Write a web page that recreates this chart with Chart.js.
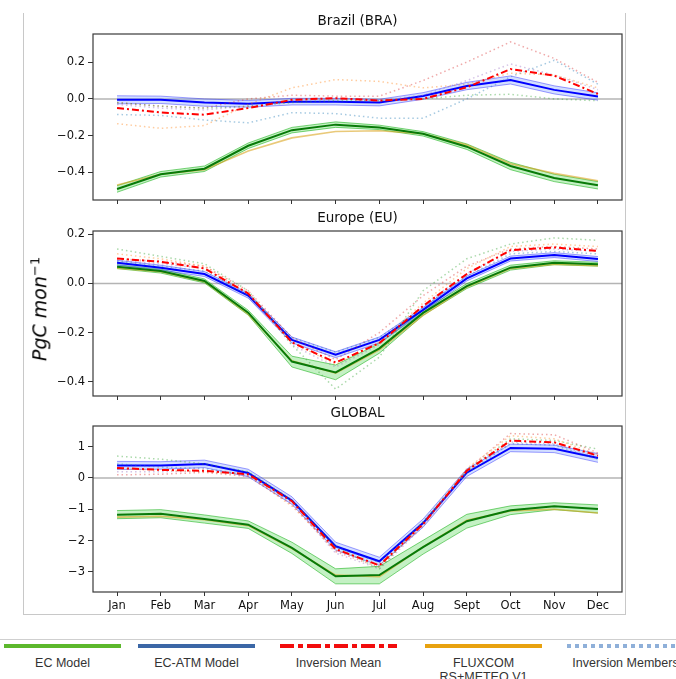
<!DOCTYPE html>
<html>
<head>
<meta charset="utf-8">
<script src="https://cdn.jsdelivr.net/npm/chart.js@4.4.1/dist/chart.umd.min.js"></script>
<style>
  body { margin: 0; background: #fff; width: 676px; height: 679px; overflow: hidden; position: relative; font-family: "DejaVu Sans", sans-serif; }
  canvas { position: absolute; left: 0; }
  #frame { position: absolute; left: 23px; top: 13px; width: 601px; height: 601px; border-left: 1px solid #c8c8c8; border-right: 1px solid #c8c8c8; border-bottom: 1px solid #c8c8c8; }
  #sep { position: absolute; left: 0; top: 639px; width: 676px; height: 0; border-top: 1px solid #cfcfcf; }
  #ylab { position: absolute; left: 39px; top: 309px; transform: translate(-50%, -50%) rotate(-90deg); font: italic 19px "DejaVu Sans"; white-space: nowrap; color: #000; }
  #ylab sup { font-size: 13px; font-style: normal; }
  .leg { position: absolute; top: 641px; width: 117px; text-align: center; font: 12.5px "Liberation Sans", Arial, sans-serif; color: #333; line-height: 14px; }
  .leg svg { display: block; width: 117px; height: 10px; }
  .leg div { margin-top: 5px; }
</style>
</head>
<body>
<div id="frame"></div>
<canvas id="braCanvas" width="676" height="210" style="top:0px"></canvas>
<canvas id="euCanvas" width="676" height="209" style="top:197px"></canvas>
<canvas id="globCanvas" width="676" height="228" style="top:392px"></canvas>
<div id="ylab">PgC mon<sup>−1</sup></div>
<div id="sep"></div>

<div class="leg" style="left:4px"><svg><line x1="0" y1="5" x2="117" y2="5" stroke="#5cb82c" stroke-width="4"/></svg><div>EC Model</div></div>
<div class="leg" style="left:138px"><svg><line x1="0" y1="5" x2="117" y2="5" stroke="#3b67a6" stroke-width="4"/></svg><div>EC-ATM Model</div></div>
<div class="leg" style="left:280px"><svg><line x1="0" y1="5" x2="117" y2="5" stroke="#f20d0d" stroke-width="4" stroke-dasharray="14,4,5,4"/></svg><div>Inversion Mean</div></div>
<div class="leg" style="left:425px"><svg><line x1="0" y1="5" x2="117" y2="5" stroke="#e8a20f" stroke-width="4"/></svg><div>FLUXCOM<br>RS+METEO V1</div></div>
<div class="leg" style="left:567px"><svg><line x1="0" y1="5" x2="117" y2="5" stroke="#8fb0d9" stroke-width="4" stroke-dasharray="4,4"/></svg><div>Inversion Members</div></div>

<script>
// months on the x axis
var months = ["Jan", "Feb", "Mar", "Apr", "May", "Jun", "Jul", "Aug", "Sept", "Oct", "Nov", "Dec"];

// Brazil (BRA)
var braEC = [-0.49, -0.41, -0.38, -0.255, -0.17, -0.14, -0.155, -0.19, -0.26, -0.365, -0.43, -0.47];
var braECSpread = [0.018, 0.015, 0.015, 0.015, 0.015, 0.015, 0.012, 0.012, 0.015, 0.02, 0.02, 0.02];
var braATM = [-0.005, -0.005, -0.02, -0.027, -0.015, -0.015, -0.02, 0.016, 0.07, 0.103, 0.049, 0.013];
var braATMSpread = [0.022, 0.02, 0.02, 0.018, 0.018, 0.018, 0.018, 0.018, 0.02, 0.022, 0.022, 0.02];
var braInv = [-0.05, -0.074, -0.086, -0.05, -0.005, 0.004, -0.009, 0.0, 0.063, 0.162, 0.126, 0.027];
var braFlux = [-0.468, -0.41, -0.385, -0.283, -0.212, -0.177, -0.173, -0.19, -0.25, -0.353, -0.405, -0.445];
var braMembers = [
  [-0.085, -0.09, -0.115, -0.13, -0.075, -0.08, -0.105, -0.105, 0.0, 0.12, 0.21, 0.08],
  [-0.135, -0.16, -0.145, -0.03, 0.06, 0.105, 0.095, 0.06, 0.08, 0.14, 0.13, 0.06],
  [-0.02, -0.04, -0.05, -0.04, -0.02, -0.01, -0.01, 0.0, 0.02, 0.025, 0.0, -0.01],
  [-0.02, -0.04, -0.05, 0.0, 0.02, 0.015, 0.015, 0.1, 0.2, 0.31, 0.22, 0.09],
  [-0.03, -0.05, -0.06, -0.04, -0.01, 0.0, -0.01, 0.02, 0.1, 0.19, 0.13, 0.05]
];
var braTicks = [-0.4, -0.2, 0.0, 0.2];

// Europe (EU)
var euEC = [0.068, 0.05, 0.01, -0.119, -0.318, -0.362, -0.264, -0.12, -0.011, 0.064, 0.084, 0.078];
var euECSpread = [0.008, 0.008, 0.008, 0.01, 0.022, 0.03, 0.02, 0.01, 0.01, 0.01, 0.008, 0.008];
var euATM = [0.084, 0.064, 0.038, -0.05, -0.23, -0.29, -0.23, -0.108, 0.02, 0.101, 0.115, 0.099];
var euATMSpread = [0.01, 0.01, 0.01, 0.01, 0.012, 0.012, 0.012, 0.01, 0.01, 0.01, 0.01, 0.01];
var euInv = [0.101, 0.088, 0.061, -0.041, -0.24, -0.322, -0.243, -0.092, 0.038, 0.135, 0.146, 0.132];
var euFlux = [0.062, 0.047, 0.007, -0.125, -0.315, -0.365, -0.27, -0.13, -0.015, 0.06, 0.078, 0.072];
var euMembers = [
  [0.09, 0.07, 0.05, -0.05, -0.22, -0.28, -0.22, -0.1, 0.03, 0.12, 0.13, 0.12],
  [0.12, 0.1, 0.07, -0.04, -0.24, -0.33, -0.24, -0.08, 0.06, 0.15, 0.16, 0.15],
  [0.14, 0.11, 0.08, -0.03, -0.25, -0.43, -0.3, -0.03, 0.1, 0.16, 0.185, 0.175],
  [0.1, 0.09, 0.07, -0.03, -0.22, -0.31, -0.2, -0.05, 0.07, 0.14, 0.15, 0.14],
  [0.095, 0.08, 0.06, -0.04, -0.25, -0.34, -0.25, -0.09, 0.04, 0.13, 0.14, 0.13]
];
var euTicks = [-0.4, -0.2, 0.0, 0.2];

// GLOBAL
var globEC = [-1.17, -1.14, -1.31, -1.49, -2.23, -3.14, -3.1, -2.21, -1.38, -1.03, -0.9, -0.99];
var globECSpread = [0.13, 0.13, 0.13, 0.12, 0.18, 0.24, 0.28, 0.22, 0.22, 0.14, 0.11, 0.13];
var globATM = [0.4, 0.4, 0.45, 0.16, -0.72, -2.18, -2.66, -1.44, 0.17, 0.96, 0.93, 0.64];
var globATMSpread = [0.13, 0.12, 0.12, 0.12, 0.12, 0.13, 0.13, 0.13, 0.12, 0.12, 0.12, 0.14];
var globInv = [0.32, 0.26, 0.23, 0.12, -0.74, -2.27, -2.79, -1.47, 0.23, 1.19, 1.14, 0.71];
var globFlux = [-1.25, -1.22, -1.33, -1.52, -2.25, -3.1, -3.15, -2.2, -1.35, -1.05, -1.0, -1.12];
var globMembers = [
  [0.45, 0.35, 0.3, 0.1, -0.75, -2.2, -2.7, -1.4, 0.15, 1.1, 1.05, 0.6],
  [0.3, 0.25, 0.2, 0.1, -0.9, -2.3, -2.8, -1.5, 0.3, 1.35, 1.25, 0.75],
  [0.7, 0.6, 0.45, 0.2, -0.7, -2.2, -2.9, -1.4, 0.25, 1.25, 1.2, 0.92],
  [0.1, 0.12, 0.18, 0.05, -0.85, -2.35, -2.85, -1.5, 0.25, 1.42, 1.38, 0.8],
  [0.2, 0.2, 0.22, 0.12, -0.8, -2.4, -2.9, -1.55, 0.2, 1.15, 1.1, 0.65]
];
var globTicks = [-3, -2, -1, 0, 1];

var memberColors = ["rgba(31,119,180,0.4)", "rgba(255,127,14,0.4)", "rgba(44,160,44,0.4)",
                    "rgba(214,39,40,0.4)", "rgba(148,103,189,0.4)"];

function pts(arr) {
  return arr.map((v, i) => ({ x: i, y: v }));
}
function shifted(arr, spread, sign) {
  return arr.map((v, i) => ({ x: i, y: v + sign * spread[i] }));
}
function minusSign(s) {
  return String(s).replace("-", "\u2212");
}

// zero line under the data, box around the plot area
var framePlugin = {
  id: "frame",
  beforeDatasetsDraw(chart) {
    var ctx = chart.ctx, a = chart.chartArea;
    var y0 = chart.scales.y.getPixelForValue(0);
    ctx.save();
    ctx.strokeStyle = "#b4b4b4";
    ctx.lineWidth = 1.5;
    ctx.beginPath();
    ctx.moveTo(a.left, y0);
    ctx.lineTo(a.right, y0);
    ctx.stroke();
    ctx.restore();
  },
  afterDraw(chart) {
    var ctx = chart.ctx, a = chart.chartArea;
    ctx.save();
    ctx.strokeStyle = "#3a3a3a";
    ctx.lineWidth = 1.2;
    ctx.strokeRect(a.left, a.top, a.right - a.left, a.bottom - a.top);
    ctx.restore();
  }
};

function makePanel(canvasId, title, ec, ecSpread, atm, atmSpread, inv, flux, members, yTicks, yMin, yMax, decimals, showMonths) {
  var datasets = [];
  datasets.push({ data: pts(inv), borderColor: "#ff0000", borderWidth: 2, borderDash: [7, 3, 2, 3], order: 0 });
  members.forEach(function(m, k) {
    datasets.push({ data: pts(m), borderColor: memberColors[k], borderWidth: 1.5, borderDash: [1.5, 3], order: 1 });
  });
  datasets.push({ data: pts(atm), borderColor: "#0000ff", borderWidth: 2, order: 2 });
  datasets.push({ data: pts(ec), borderColor: "#087a08", borderWidth: 2, order: 3 });
  datasets.push({ data: pts(flux), borderColor: "rgba(218,165,32,0.6)", borderWidth: 1.6, order: 4 });
  datasets.push({ data: shifted(atm, atmSpread, -1), borderColor: "rgba(40,40,255,0.45)", borderWidth: 1, order: 5 });
  datasets.push({ data: shifted(atm, atmSpread, 1), borderColor: "rgba(40,40,255,0.45)", borderWidth: 1, order: 5,
                  fill: "-1", backgroundColor: "rgba(110,150,255,0.3)" });
  datasets.push({ data: shifted(ec, ecSpread, -1), borderColor: "rgba(0,170,0,0.5)", borderWidth: 1, order: 6 });
  datasets.push({ data: shifted(ec, ecSpread, 1), borderColor: "rgba(0,170,0,0.5)", borderWidth: 1, order: 6,
                  fill: "-1", backgroundColor: "rgba(60,210,60,0.3)" });

  return new Chart(document.getElementById(canvasId).getContext("2d"), {
    type: "line",
    data: { datasets: datasets },
    options: {
      responsive: false,
      animation: false,
      elements: { point: { radius: 0 }, line: { tension: 0, fill: false } },
      layout: { padding: { right: 54 } },
      plugins: {
        legend: { display: false },
        tooltip: { enabled: false },
        title: {
          display: true,
          fullSize: false,
          text: title,
          color: "#111",
          font: { family: "DejaVu Sans", size: 13.5, weight: "normal" },
          padding: { top: 13, bottom: 4.8 }
        }
      },
      scales: {
        x: {
          type: "linear",
          min: -0.55,
          max: 11.55,
          afterBuildTicks: function(scale) {
            scale.ticks = months.map((m, i) => ({ value: i }));
          },
          afterFit: function(scale) {
            scale.height = showMonths ? 28 : 10;
          },
          grid: { drawOnChartArea: false, tickLength: 4, tickColor: "#333", color: "#333" },
          border: { display: false },
          ticks: {
            display: showMonths,
            autoSkip: false,
            maxRotation: 0,
            padding: 3,
            color: "#111",
            font: { family: "DejaVu Sans", size: 11.5 },
            callback: function(v) { return months[v]; }
          }
        },
        y: {
          min: yMin,
          max: yMax,
          afterBuildTicks: function(scale) {
            scale.ticks = yTicks.map(v => ({ value: v }));
          },
          afterFit: function(scale) {
            scale.width = 93;
          },
          grid: { drawOnChartArea: false, tickLength: 5, tickColor: "#333", color: "#333" },
          border: { display: false },
          ticks: {
            padding: 3,
            color: "#111",
            font: { family: "DejaVu Sans", size: 11.5 },
            callback: function(v) { return minusSign(v.toFixed(decimals)); }
          }
        }
      }
    },
    plugins: [framePlugin]
  });
}

makePanel("braCanvas", "Brazil (BRA)", braEC, braECSpread, braATM, braATMSpread, braInv, braFlux, braMembers, braTicks, -0.55, 0.353, 1, false);
makePanel("euCanvas", "Europe (EU)", euEC, euECSpread, euATM, euATMSpread, euInv, euFlux, euMembers, euTicks, -0.458, 0.213, 1, false);
makePanel("globCanvas", "GLOBAL", globEC, globECSpread, globATM, globATMSpread, globInv, globFlux, globMembers, globTicks, -3.64, 1.66, 0, true);
</script>
</body>
</html>
